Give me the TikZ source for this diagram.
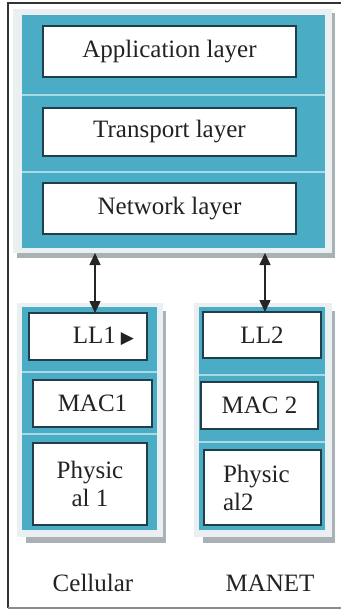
\documentclass[tikz,border=0pt]{standalone}
\usepackage{fontspec}
\setmainfont{Liberation Serif}
\newfontfamily\symfont{DejaVu Sans}
\usetikzlibrary{arrows.meta}

\definecolor{stackblue}{HTML}{4BACC6}
\definecolor{seplight}{HTML}{A8DAE6}
\definecolor{rimcol}{HTML}{EAF0F2}
\definecolor{shadecol}{HTML}{A9B1B5}
\definecolor{edgecol}{HTML}{213F4A}
\definecolor{inkcol}{HTML}{222222}

\tikzset{
  layerbox/.style={draw=edgecol, line width=2pt, fill=white, inner sep=0pt,
    outer sep=0pt, anchor=north west, text=inkcol,
    font=\fontsize{25}{28}\selectfont},
  panel/.style={fill=stackblue, inner sep=0pt, outer sep=0pt, anchor=north west},
  rim/.style={fill=rimcol},
  shade/.style={fill=shadecol},
  sepline/.style={draw=seplight, line width=2.2pt},
  caption/.style={text=inkcol, font=\fontsize{25}{28}\selectfont},
  link/.style={draw=black!85, line width=1.5pt,
    {Triangle[length=12pt,width=11pt]}-{Triangle[length=12pt,width=11pt]}}
}

\begin{document}
\begin{tikzpicture}[x=1pt,y=-1pt]
\useasboundingbox (0,0) rectangle (341,611);

% outer frame
\draw[black!80, line width=1.4pt] (8,608) -- (8,3) -- (341,3);
\draw[black!45, line width=1.2pt] (8,608) -- (341,608);

% ---- upper stack: application / transport / network ----
\fill[shade] (17,13) rectangle (335,258);
\fill[rim] (13,9) rectangle (332,253);
\node[panel, minimum width=303pt, minimum height=233pt] (stack) at (22,15) {};
\draw[sepline] (22,95) -- (325,95);
\draw[sepline] (22,172) -- (325,172);
\node[layerbox, minimum width=253pt, minimum height=51pt] (app) at (43,26) {Application layer};
\node[layerbox, minimum width=253pt, minimum height=48pt] (trans) at (43,108) {Transport layer};
\node[layerbox, minimum width=253pt, minimum height=51pt] (net) at (43,183) {Network layer};

% ---- cellular stack ----
\fill[shade] (26,311) rectangle (166,543);
\fill[rim] (17,303) rectangle (163,537);
\node[panel, minimum width=135pt, minimum height=223pt] (cell) at (22,307) {};
\draw[sepline] (22,372) -- (157,372);
\draw[sepline] (22,434) -- (157,434);
\node[layerbox, minimum width=118pt, minimum height=47pt, text width=92pt,
  inner xsep=13pt, align=right] (ll1) at (29,313)
  {LL1\hspace{5pt}{\symfont\fontsize{17}{17}\selectfont ▶}};
\node[layerbox, minimum width=119pt, minimum height=47pt] (mac1) at (33,380) {MAC1};
\node[layerbox, minimum width=114pt, minimum height=82pt, align=center] (phy1) at (33,443)
  {Physic\\al 1};

% ---- MANET stack ----
\fill[shade] (203,311) rectangle (335,543);
\fill[rim] (194,303) rectangle (332,537);
\node[panel, minimum width=126pt, minimum height=223pt] (manet) at (199,307) {};
\draw[sepline] (199,375) -- (325,375);
\draw[sepline] (199,442) -- (325,442);
\node[layerbox, minimum width=118pt, minimum height=46pt] (ll2) at (203,312) {LL2};
\node[layerbox, minimum width=117pt, minimum height=47pt] (mac2) at (201,382) {MAC 2};
\node[layerbox, minimum width=117pt, minimum height=75pt, text width=79pt,
  inner xsep=19pt, align=left] (phy2) at (204,450) {Physic\\al2};

% ---- links between the upper stack and the link layers ----
\coordinate (xa) at (95,0);
\coordinate (xb) at (265,0);
\coordinate (ta) at (95,253);
\coordinate (tb) at (265,253);
\draw[link] (ta) -- (ll1.north -| xa);
\draw[link] (tb) -- (ll2.north -| xb);

% ---- captions ----
\node[caption] (capcell) at (93,583) {Cellular};
\node[caption] (capmanet) at (270,583) {MANET};
\end{tikzpicture}
\end{document}
